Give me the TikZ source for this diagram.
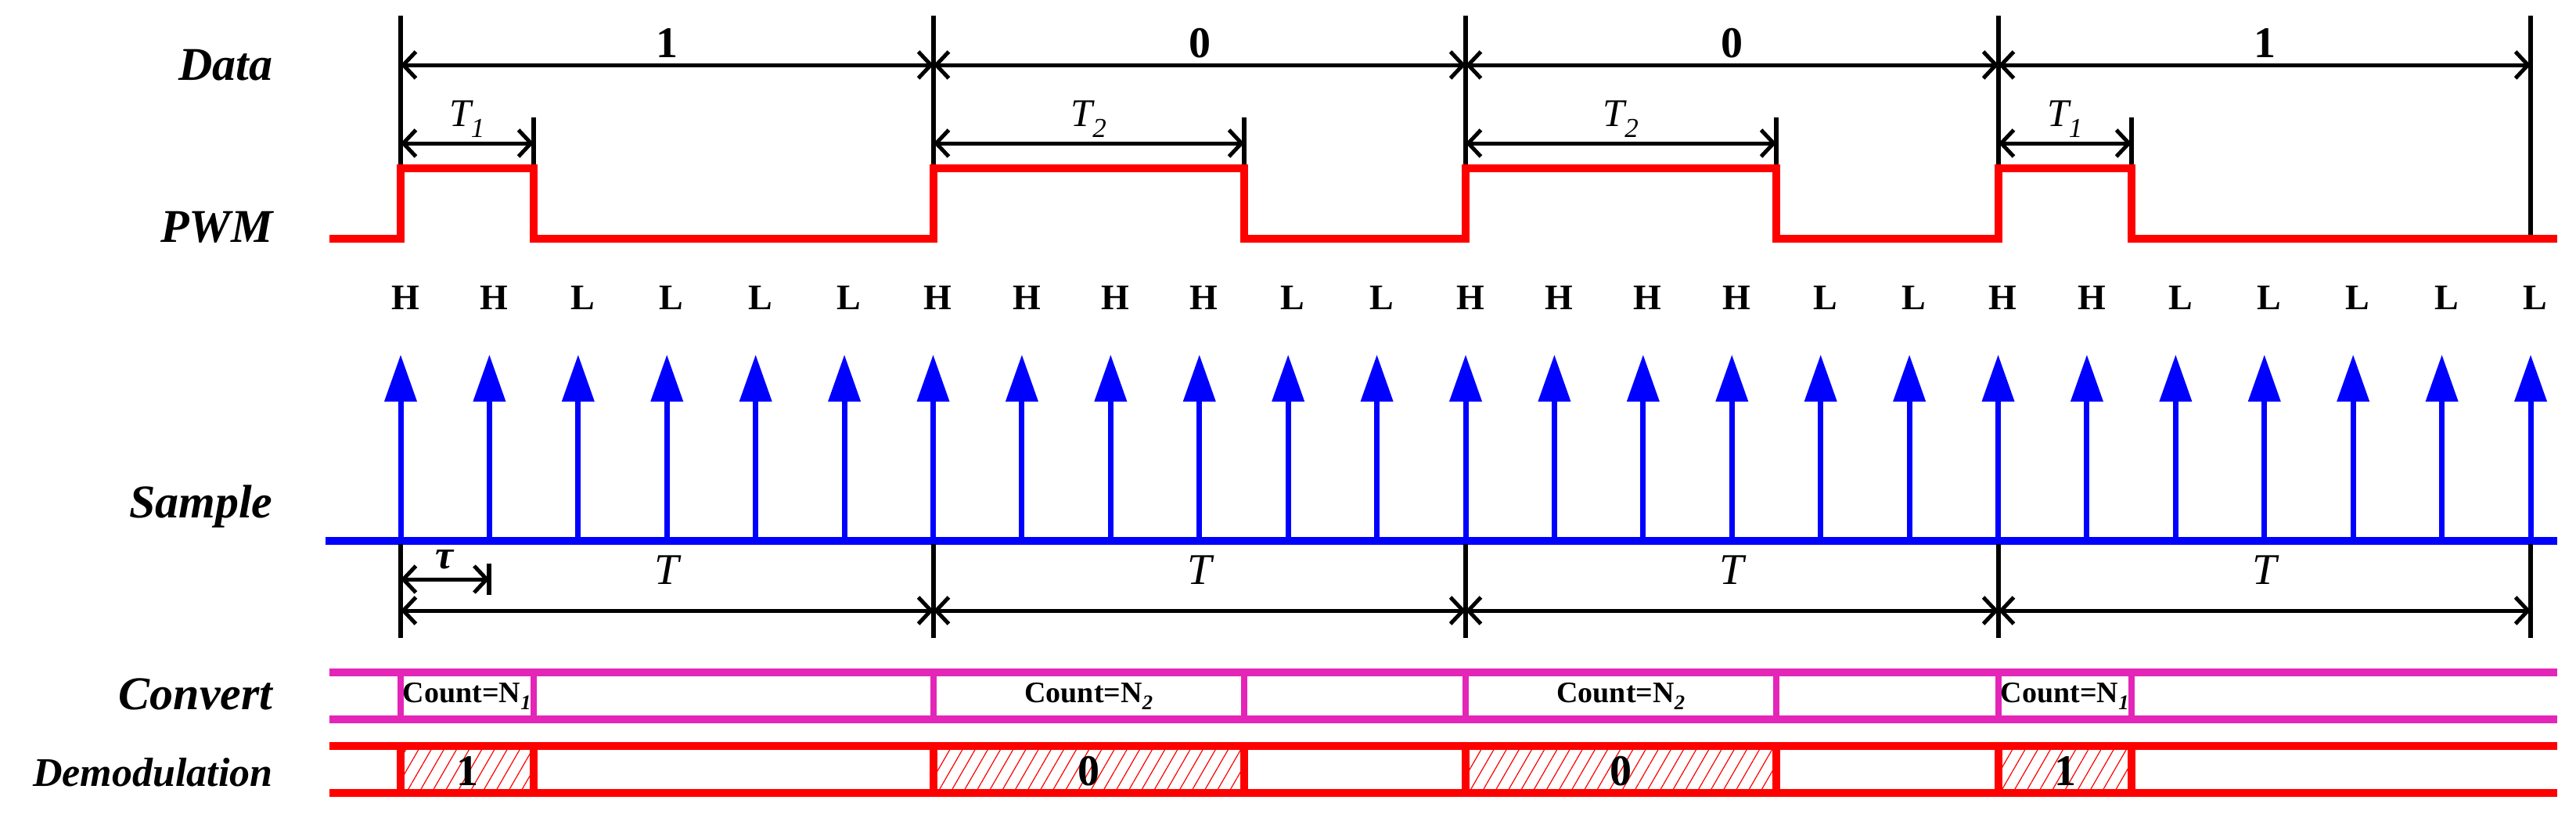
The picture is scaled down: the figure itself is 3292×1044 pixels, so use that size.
\documentclass[tikz,border=0pt]{standalone}
\usepackage{fontspec}
\setmainfont{Liberation Serif}
\usetikzlibrary{arrows.meta,patterns.meta}
\definecolor{mag}{HTML}{E326B8}
\begin{document}
\begin{tikzpicture}[x=1pt,y=-1pt,
  lab/.style={anchor=east,font=\fontsize{60}{60}\selectfont\bfseries\itshape},
  hl/.style={font=\fontsize{46}{46}\selectfont\bfseries},
  dim/.style={line width=5pt,{Straight Barb[length=16pt,width=34pt,line width=5pt]}-{Straight Barb[length=16pt,width=34pt,line width=5pt]}},
  tick/.style={line width=6pt},
  pwm/.style={red,line width=10pt},
  samp/.style={blue,line width=7pt,-{Triangle[length=60pt,width=40pt]}},
  dimlab/.style={font=\fontsize{52}{52}\selectfont\bfseries\itshape},
  cnt/.style={font=\fontsize{38}{38}\selectfont\bfseries}]
\useasboundingbox (0,0) rectangle (3292,1044);
% labels
\node[lab] (ldata) at (352,83) {Data};
\node[lab] (lpwm) at (352,290) {PWM};
\node[lab] (lsamp) at (352,647) {Sample};
\node[lab] (lconv) at (352,887) {Convert};
\node[lab,font=\fontsize{52}{52}\selectfont\bfseries\itshape] (ldem) at (352,987) {Demodulation};
% Data vertical lines
\foreach \x in {512,1193,1873,2554}{\draw[tick] (\x,20) -- (\x,215);}
\draw[tick] (3234,20) -- (3234,308);
\foreach \x in {682,1590,2270,2724}{\draw[tick] (\x,150) -- (\x,215);}
% Data arrows
\foreach \a/\b/\t in {512/1193/1,1193/1873/0,1873/2554/0,2554/3234/1}{
  \draw[dim] (\a,83) -- (\b,83);
  \node[font=\fontsize{56}{56}\selectfont\bfseries] at ({(\a+\b)/2},55) {\t};}
% T1 T2
\foreach \a/\b/\t in {512/682/1,1193/1590/2,1873/2270/2,2554/2724/1}{
  \draw[dim] (\a,183) -- (\b,183);
  \node[font=\fontsize{50}{50}\selectfont\itshape] at ({(\a+\b)/2},152) {T\textsubscript{\t}};}
% PWM
\draw[pwm] (421,305) -- (512,305) -- (512,215) -- (682,215) -- (682,305) -- (1193,305) -- (1193,215) -- (1590,215) -- (1590,305) -- (1873,305) -- (1873,215) -- (2270,215) -- (2270,305) -- (2554,305) -- (2554,215) -- (2724,215) -- (2724,305) -- (3268,305);
% H/L labels and samples
\draw[blue,line width=10pt] (416,691) -- (3268,691);
\foreach \s [count=\i from 0] in {H,H,L,L,L,L,H,H,H,H,L,L,H,H,H,H,L,L,H,H,L,L,L,L,L}{
  \pgfmathsetmacro\xx{512+\i*113.417}
  \node[hl] at (\xx+6,380) {\s};
  \draw[samp] (\xx,693) -- (\xx,453);}
% tau and T
\foreach \x in {512,1193,1873,2554,3234}{\draw[tick] (\x,695) -- (\x,815);}
\draw[tick] (625.4,720) -- (625.4,760);
\draw[dim] (512,740) -- (625.4,740);
\node[dimlab] at (568,715) {τ};
\foreach \a/\b in {512/1193,1193/1873,1873/2554,2554/3234}{
  \draw[dim] (\a,780) -- (\b,780);
  \node[dimlab,font=\fontsize{56}{56}\selectfont\itshape] at ({(\a+\b)/2},728) {T};}
% Convert
\draw[mag,line width=10pt] (421,859) -- (3268,859) (421,919) -- (3268,919);
\foreach \a/\b/\n in {512/682/1,1193/1590/2,1873/2270/2,2554/2724/1}{
  \draw[mag,line width=8pt] (\a,859) -- (\a,919) (\b,859) -- (\b,919);
  \node[cnt] at ({(\a+\b)/2},889) {Count=N\textsubscript{\textit{\n}}};}
% Demodulation
\foreach \a/\b/\n in {512/682/1,1193/1590/0,1873/2270/0,2554/2724/1}{
  \fill[pattern={Lines[angle=60,distance=14pt,line width=1.2pt]},pattern color=red] (\a,953) rectangle (\b,1013);
  \draw[red,line width=10pt] (\a,953) -- (\a,1013) (\b,953) -- (\b,1013);
  \node[font=\fontsize{56}{56}\selectfont\bfseries] at ({(\a+\b)/2},985) {\n};}
\draw[red,line width=10pt] (421,953) -- (3268,953) (421,1013) -- (3268,1013);
\end{tikzpicture}
\end{document}
